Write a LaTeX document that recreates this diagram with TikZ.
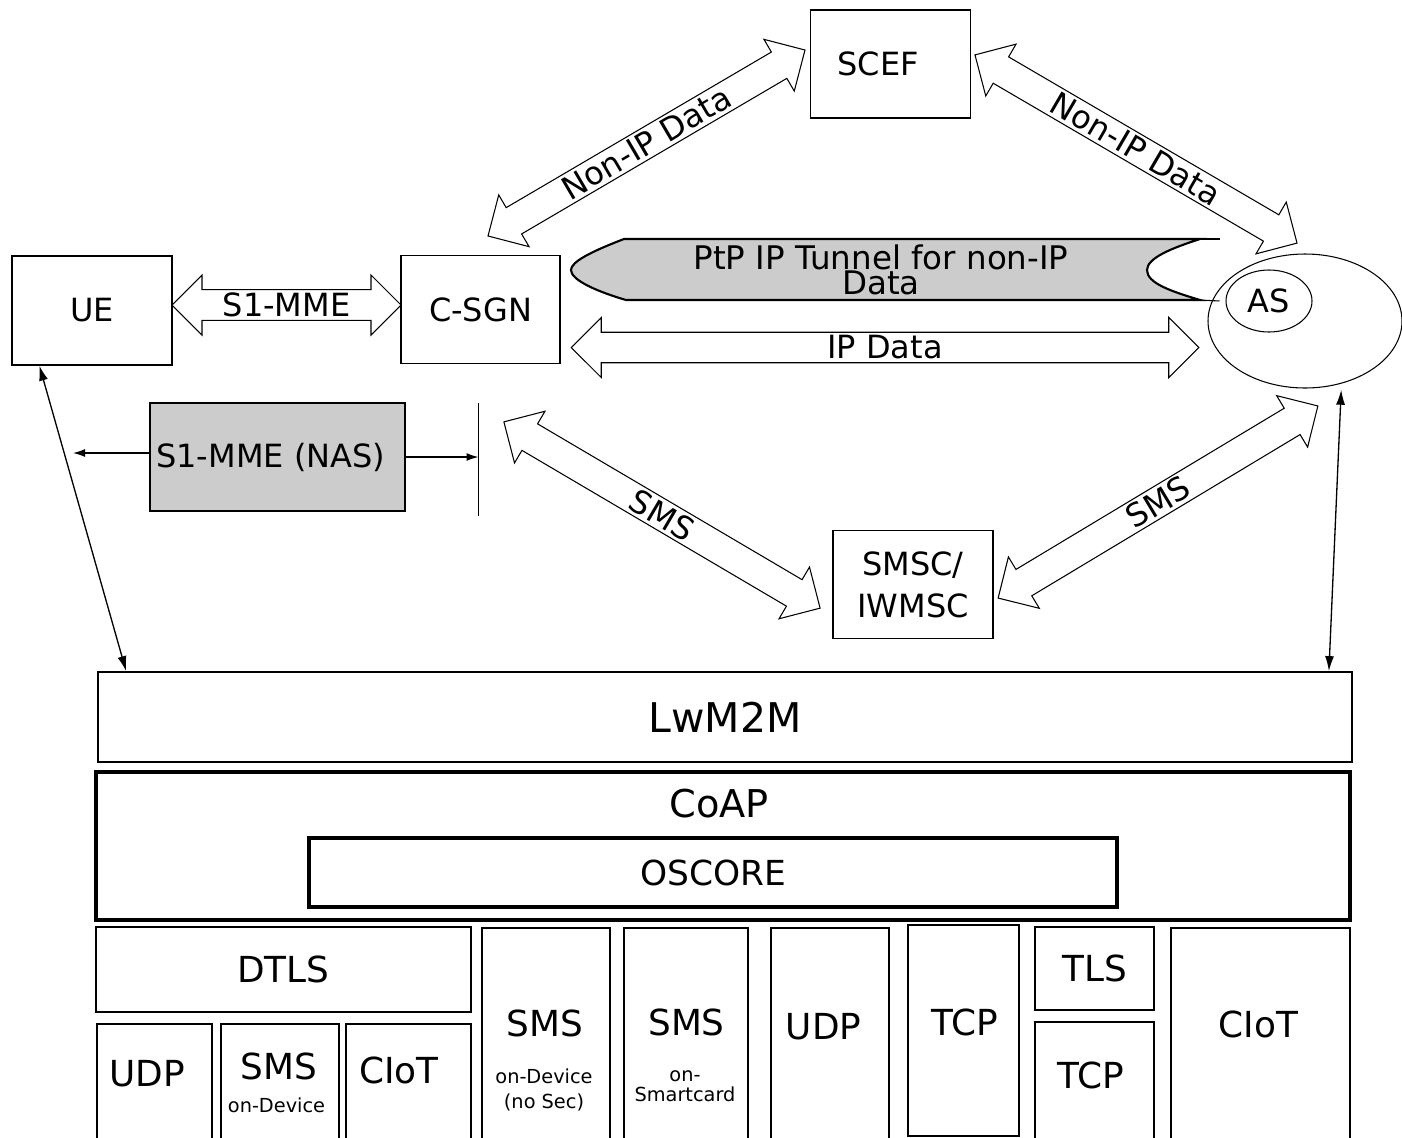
\documentclass[tikz,border=0pt]{standalone}
\usepackage{fontspec}
\setmainfont{DejaVu Sans}
\usepackage{tikz}
\usetikzlibrary{arrows.meta,shapes.arrows,shapes.geometric,calc}
\definecolor{boxgray}{HTML}{CCCCCC}
\newcommand{\midfont}{\fontsize{18.2}{21}\selectfont}
\newcommand{\stackfont}{\fontsize{20.4}{24}\selectfont}
\newcommand{\tinyfont}{\fontsize{11}{14.5}\selectfont}
\tikzset{
  netbox/.style={draw, line width=0.7pt, inner sep=0pt, font=\midfont},
  fatarrow/.style={double arrow, draw, line width=0.6pt, fill=white, inner sep=0pt,
    minimum width=12mm, double arrow head extend=2.4mm, double arrow tip angle=90, font=\midfont},
  layer/.style={draw, line width=1pt, inner sep=0pt, font=\stackfont},
  thicklayer/.style={layer, line width=1.9pt},
  openlayer/.style={layer, anchor=north, minimum height=50mm},
  thinarrow/.style={{Latex[length=3mm, width=1.8mm]}-{Latex[length=3mm, width=1.8mm]}, line width=0.75pt},
  nasarrow/.style={-{Latex[length=2.4mm, width=1.6mm]}, line width=0.7pt}
}

\begin{document}
\begin{tikzpicture}[x=0.2mm, y=-0.2mm]
  \useasboundingbox (0, 0) rectangle (1402, 1137);
  \clip (0, 0) rectangle (1402, 1137);

  \node[netbox, minimum width=32mm, minimum height=21.8mm] (ue) at (92, 310.5) {UE};
  \node[netbox, minimum width=31.8mm, minimum height=21.6mm] (csgn) at (480.5, 309.5) {C-SGN};
  \node[netbox, minimum width=32mm, minimum height=21.6mm] (scef) at (890.5, 64) {SCEF\hspace*{5mm}};
  \node[netbox, minimum width=32mm, minimum height=21.6mm, align=center, font=\fontsize{18.2}{23.8}\selectfont] (smsc) at (913, 584.5) {SMSC/\\IWMSC};
  \node[netbox, fill=boxgray, line width=1.1pt, minimum width=51mm, minimum height=21.6mm] (nas) at (277.5, 457) {S1-MME (NAS)\hspace*{2.7mm}};

  \node[ellipse, draw, line width=0.6pt, minimum width=38.8mm, minimum height=26.8mm] (asbig) at (1305, 321) {};
  \node[ellipse, draw, line width=0.6pt, inner sep=0pt, minimum width=17.2mm, minimum height=12.4mm, font=\midfont] (as) at (1269, 301) {AS};

  \draw[line width=1.2pt, fill=boxgray] (1200, 239) coordinate (tuntop) -- (624, 239) .. controls (590, 252) and (571, 262) .. (571, 270) .. controls (571, 279) and (592, 290) .. (626, 300) -- (1200, 300) coordinate (tunbot) .. controls (1170, 291) and (1147, 283) .. (1147, 270) .. controls (1147, 258) and (1172, 248) .. (1200, 239) -- cycle;
  \node[align=center, font=\fontsize{18.5}{14.4}\selectfont] (tunnel) at (881, 270) {PtP IP Tunnel for non-IP\\Data};
  \draw[line width=0.6pt] (tuntop) -- ++(20, 0);
  \draw[line width=0.6pt] (tunbot) -- ([xshift=-1.2mm]as.west);

  \node[fatarrow, minimum height=45.8mm] (s1mme) at ($(ue.east)!0.5!(csgn.west)+(0, -5)$) {S1-MME};
  \node[fatarrow, minimum height=125.5mm] (ipdata) at (885, 347.5) {IP Data};
  \node[fatarrow, minimum height=73.5mm, rotate=30.4] (nonipl) at (646.5, 143) {Non-IP Data};
  \node[fatarrow, minimum height=74.6mm, rotate=-30.3] (nonipr) at (1136, 149) {Non-IP Data};
  \node[fatarrow, minimum height=73.4mm, rotate=-30.5] (smsl) at (662, 515) {SMS};
  \node[fatarrow, minimum height=74.6mm, rotate=31] (smsr) at (1158, 502) {SMS};

  \coordinate (bartop) at (478.5, 403);
  \coordinate (barbot) at (478.5, 516);
  \draw[line width=0.7pt] (bartop) -- (barbot);
  \draw[nasarrow] ([yshift=0.8mm]nas.west) -- ++(-76, 0);
  \draw[nasarrow] (nas.east) -- (nas.east -| bartop);

  \node[layer, minimum width=250.8mm, minimum height=18mm, font=\fontsize{23.3}{28}\selectfont] (lwm) at (725, 717) {LwM2M};
  \node[thicklayer, minimum width=250.8mm, minimum height=29.6mm] (coap) at (723, 846) {};
  \node[font=\fontsize{21.8}{26}\selectfont] (coaptext) at (719, 804) {CoAP};
  \node[thicklayer, minimum width=161.6mm, minimum height=13.8mm, font=\fontsize{19.6}{24}\selectfont] (oscore) at (713, 872.5) {OSCORE};

  \draw[thinarrow] ([xshift=5.6mm]ue.south west) -- ([xshift=5.8mm]lwm.north west);
  \draw[thinarrow] ([yshift=-1.2mm]asbig.-60) -- ([xshift=-4.8mm]lwm.north east);

  \node[layer, minimum width=75mm, minimum height=17mm] (dtls) at (283.5, 969.5) {DTLS};
  \node[openlayer, minimum width=23mm] (udpa) at (154.5, 1023) {};
  \node[openlayer, minimum width=23.6mm] (smsa) at (280, 1023) {};
  \node[openlayer, minimum width=25mm] (ciota) at (408.5, 1023) {};
  \node[openlayer, minimum width=25.6mm] (smsb) at (546, 927) {};
  \node[openlayer, minimum width=24.8mm] (smsc2) at (686, 927) {};
  \node[openlayer, minimum width=23.6mm] (udpb) at (830, 927) {};
  \node[layer, minimum width=22.2mm, minimum height=42.2mm] (tcpa) at (963.5, 1030.5) {};
  \node[layer, minimum width=23.8mm, minimum height=16.6mm] (tls) at (1094.5, 968.5) {TLS};
  \node[openlayer, minimum width=23.8mm] (tcpb) at (1094.5, 1021) {};
  \node[openlayer, minimum width=35.8mm] (ciotb) at (1260.5, 927) {};

  \node[font=\stackfont] (udpatext) at (147, 1073.5) {UDP};
  \node[font=\stackfont] (smsatext) at (278.6, 1066.5) {SMS};
  \node[font=\tinyfont] (smsanote) at (276.5, 1105) {on-Device};
  \node[font=\stackfont] (ciotatext) at (399, 1070) {CIoT};
  \node[font=\stackfont] (smsbtext) at (545, 1023) {SMS};
  \node[font=\tinyfont, align=center] (smsbnote) at (544, 1090) {on-Device\\(no Sec)};
  \node[font=\stackfont] (smsctext) at (686.5, 1022) {SMS};
  \node[font=\fontsize{11}{11.3}\selectfont, align=center] (smscnote) at (685, 1086) {on-\\Smartcard};
  \node[font=\stackfont] (udpbtext) at (823.5, 1026.5) {UDP};
  \node[font=\stackfont] (tcpatext) at (965, 1022) {TCP};
  \node[font=\stackfont] (tcpbtext) at (1090.5, 1075.5) {TCP};
  \node[font=\stackfont] (ciotbtext) at (1258.5, 1024) {CIoT};
\end{tikzpicture}
\end{document}
